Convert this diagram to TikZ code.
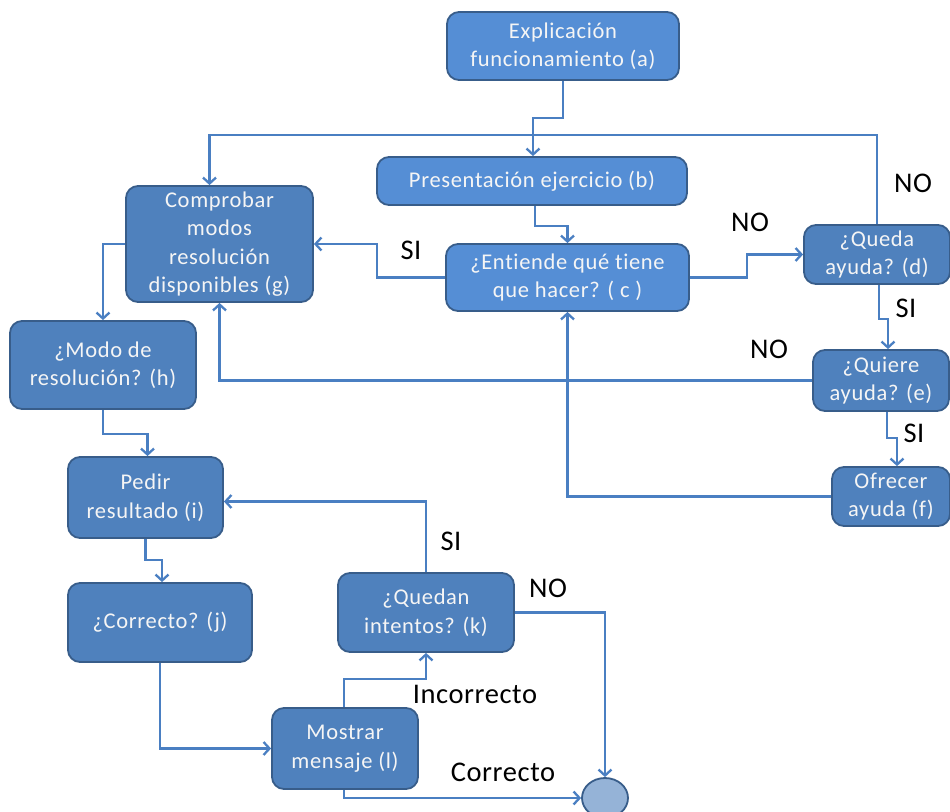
\documentclass[tikz,border=0pt]{standalone}
\usepackage{fontspec}
\setmainfont{Carlito}
\newfontfamily\boxfont[LetterSpace=3,Ligatures={NoCommon}]{Carlito}
\newfontfamily\tagfont[LetterSpace=2,Ligatures={NoCommon}]{Carlito}
\usetikzlibrary{arrows.meta,shapes.geometric}
\definecolor{boxdark}{HTML}{4F81BD}
\definecolor{boxlight}{HTML}{558ED5}
\definecolor{boxedge}{HTML}{385D8A}
\definecolor{linkcol}{HTML}{4A7FC2}
\definecolor{endfill}{HTML}{95B3D7}
\tikzset{
  stepbox/.style={draw=boxedge, line width=1.8pt, fill=boxdark, rounded corners=12pt,
    text=white!96!black, align=center, inner sep=0pt,
    font=\boxfont\fontsize{22.5}{28.5}\selectfont},
  lightbox/.style={stepbox, fill=boxlight},
  link/.style={draw=linkcol, line width=2.6pt, rounded corners=0pt,
    -{Straight Barb[length=6pt,width=13pt,line width=2.3pt]}},
  tag/.style={font=\tagfont\fontsize{28.5}{30}\selectfont, text=black, inner sep=0pt},
}
\begin{document}
\begin{tikzpicture}[x=1pt,y=-1pt]
\useasboundingbox (0,0) rectangle (950,811);

% process boxes
\node[lightbox, minimum width=232pt, minimum height=68pt] (a) at (563,46) {Explicación\\funcionamiento (a)};
\node[lightbox, minimum width=310pt, minimum height=48pt] (b) at (532,181) {Presentación ejercicio (b)};
\node[lightbox, minimum width=243pt, minimum height=67pt] (c) at (567.5,277.5) {¿Entiende qué tiene\\que hacer? ( c )};
\node[stepbox, minimum width=187pt, minimum height=116pt] (g) at (219.5,244) {Comprobar\\modos\\resolución\\disponibles (g)};
\node[stepbox, minimum width=146pt, minimum height=59pt] (d) at (877,254.5) {¿Queda\\ayuda? (d)};
\node[stepbox, minimum width=136pt, minimum height=61pt] (e) at (881,380.5) {¿Quiere\\ayuda? (e)};
\node[stepbox, minimum width=118pt, minimum height=59pt] (f) at (891,496.5) {Ofrecer\\ayuda (f)};
\node[stepbox, minimum width=186pt, minimum height=88pt] (h) at (103,365) {¿Modo de\\resolución? (h)};
\node[stepbox, minimum width=155pt, minimum height=81pt] (i) at (145.5,497.5) {Pedir\\resultado (i)};
\node[stepbox, minimum width=184pt, minimum height=79pt] (j) at (160,622.5) {¿Correcto? (j)};
\node[stepbox, minimum width=176pt, minimum height=79pt] (k) at (426,612.5) {¿Quedan\\intentos? (k)};
\node[stepbox, minimum width=146pt, minimum height=81pt] (l) at (345,748.5) {Mostrar\\mensaje (l)};
\node[draw=boxedge, line width=1.8pt, fill=endfill, ellipse, minimum width=46pt, minimum height=40pt, inner sep=0pt] (fin) at (605,798) {};

% connectors
\draw[link] (a.south) -- ++(0,37) -| ([xshift=1]b.north);
\draw[link] ([xshift=3]b.south) -- ++(0,20) -| (c.north);
\draw[link] (c.west) -- ++(-68,0) |- (g.east);
\draw[link] (c.east) -- ++(57,0) |- (d.west);
\draw[link] (d.north) -- ++(0,-89) -| ([xshift=-10]g.north);
\draw[link] ([xshift=2]d.south) -- ++(0,34) -| ([xshift=7]e.north);
\draw[link] (e.west) -| (g.south);
\draw[link] ([xshift=6]e.south) -- ++(0,26) -| ([xshift=6]f.north);
\draw[link] (f.west) -| (c.south);
\draw[link] (g.west) -| (h.north);
\draw[link] (h.south) -- ++(0,24) -| ([xshift=2]i.north);
\draw[link] (i.south) -- ++(0,21) -| ([xshift=2]j.north);
\draw[link] (j.south) |- (l.west);
\draw[link] ([xshift=-1]l.north) -- ++(0,-28) -| (k.south);
\draw[link] ([xshift=-1]l.south) |- (fin.west);
\draw[link] (k.north) |- ([yshift=-4]i.east);
\draw[link] (k.east) -| (fin.north);

% branch labels
\node[tag] (t1) at (913,183) {NO};
\node[tag] (t2) at (750,222) {NO};
\node[tag] (t3) at (411,250) {SI};
\node[tag] (t4) at (906,308) {SI};
\node[tag] (t5) at (769,349) {NO};
\node[tag] (t6) at (914,433) {SI};
\node[tag] (t7) at (451,541) {SI};
\node[tag] (t8) at (548,588) {NO};
\node[tag] (t9) at (475,694) {Incorrecto};
\node[tag] (t10) at (503,772) {Correcto};
\end{tikzpicture}
\end{document}
